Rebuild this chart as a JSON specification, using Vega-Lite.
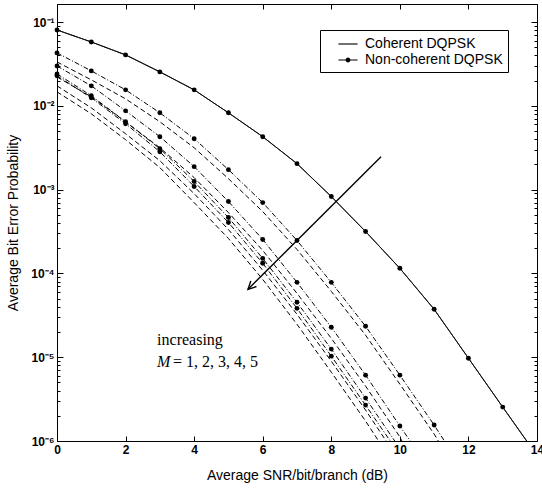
{
  "$schema": "https://vega.github.io/schema/vega-lite/v6.json",
  "width": 480,
  "height": 437,
  "autosize": "none",
  "padding": {"left": 57, "top": 4, "right": 5, "bottom": 48},
  "background": "white",
  "config": {
    "view": {"stroke": "black", "strokeWidth": 1},
    "axis": {"grid": false, "domainColor": "black", "tickColor": "black", "labelColor": "black", "titleColor": "black", "labelFont": "Liberation Sans", "titleFont": "Liberation Sans", "labelFlush": false}
  },
  "datasets": {
    "curves": [
      {"snr":0,"ber":0.0803,"M":1,"receiver":"Coherent"},{"snr":1,"ber":0.0578,"M":1,"receiver":"Coherent"},{"snr":2,"ber":0.0405,"M":1,"receiver":"Coherent"},{"snr":3,"ber":0.0254,"M":1,"receiver":"Coherent"},{"snr":4,"ber":0.0155,"M":1,"receiver":"Coherent"},{"snr":5,"ber":0.00825,"M":1,"receiver":"Coherent"},{"snr":6,"ber":0.00428,"M":1,"receiver":"Coherent"},{"snr":7,"ber":0.00204,"M":1,"receiver":"Coherent"},{"snr":8,"ber":0.000826,"M":1,"receiver":"Coherent"},{"snr":9,"ber":0.000316,"M":1,"receiver":"Coherent"},{"snr":10,"ber":0.000115,"M":1,"receiver":"Coherent"},{"snr":11,"ber":0.0000373,"M":1,"receiver":"Coherent"},{"snr":12,"ber":0.00000973,"M":1,"receiver":"Coherent"},{"snr":13,"ber":0.00000254,"M":1,"receiver":"Coherent"},{"snr":13.7,"ber":0.000001,"M":1,"receiver":"Coherent"},
      {"snr":0,"ber":0.0803,"M":1,"receiver":"Non-coherent"},{"snr":1,"ber":0.0578,"M":1,"receiver":"Non-coherent"},{"snr":2,"ber":0.0405,"M":1,"receiver":"Non-coherent"},{"snr":3,"ber":0.0254,"M":1,"receiver":"Non-coherent"},{"snr":4,"ber":0.0155,"M":1,"receiver":"Non-coherent"},{"snr":5,"ber":0.00825,"M":1,"receiver":"Non-coherent"},{"snr":6,"ber":0.00428,"M":1,"receiver":"Non-coherent"},{"snr":7,"ber":0.00204,"M":1,"receiver":"Non-coherent"},{"snr":8,"ber":0.000826,"M":1,"receiver":"Non-coherent"},{"snr":9,"ber":0.000316,"M":1,"receiver":"Non-coherent"},{"snr":10,"ber":0.000115,"M":1,"receiver":"Non-coherent"},{"snr":11,"ber":0.0000373,"M":1,"receiver":"Non-coherent"},{"snr":12,"ber":0.00000973,"M":1,"receiver":"Non-coherent"},{"snr":13,"ber":0.00000254,"M":1,"receiver":"Non-coherent"},{"snr":13.7,"ber":0.000001,"M":1,"receiver":"Non-coherent"},
      {"snr":0,"ber":0.0428,"M":2,"receiver":"Non-coherent"},{"snr":1,"ber":0.0261,"M":2,"receiver":"Non-coherent"},{"snr":2,"ber":0.0155,"M":2,"receiver":"Non-coherent"},{"snr":3,"ber":0.00825,"M":2,"receiver":"Non-coherent"},{"snr":4,"ber":0.00405,"M":2,"receiver":"Non-coherent"},{"snr":5,"ber":0.00173,"M":2,"receiver":"Non-coherent"},{"snr":6,"ber":0.0007,"M":2,"receiver":"Non-coherent"},{"snr":7,"ber":0.000247,"M":2,"receiver":"Non-coherent"},{"snr":8,"ber":0.0000782,"M":2,"receiver":"Non-coherent"},{"snr":9,"ber":0.0000234,"M":2,"receiver":"Non-coherent"},{"snr":10,"ber":0.00000611,"M":2,"receiver":"Non-coherent"},{"snr":11,"ber":0.00000155,"M":2,"receiver":"Non-coherent"},{"snr":11.3,"ber":0.000001,"M":2,"receiver":"Non-coherent"},
      {"snr":0,"ber":0.0299,"M":3,"receiver":"Non-coherent"},{"snr":1,"ber":0.0173,"M":3,"receiver":"Non-coherent"},{"snr":2,"ber":0.00871,"M":3,"receiver":"Non-coherent"},{"snr":3,"ber":0.00428,"M":3,"receiver":"Non-coherent"},{"snr":4,"ber":0.00188,"M":3,"receiver":"Non-coherent"},{"snr":5,"ber":0.00072,"M":3,"receiver":"Non-coherent"},{"snr":6,"ber":0.000254,"M":3,"receiver":"Non-coherent"},{"snr":7,"ber":0.0000782,"M":3,"receiver":"Non-coherent"},{"snr":8,"ber":0.0000228,"M":3,"receiver":"Non-coherent"},{"snr":9,"ber":0.00000611,"M":3,"receiver":"Non-coherent"},{"snr":10,"ber":0.00000151,"M":3,"receiver":"Non-coherent"},{"snr":10.3,"ber":0.000001,"M":3,"receiver":"Non-coherent"},
      {"snr":0,"ber":0.024,"M":4,"receiver":"Non-coherent"},{"snr":1,"ber":0.0132,"M":4,"receiver":"Non-coherent"},{"snr":2,"ber":0.00645,"M":4,"receiver":"Non-coherent"},{"snr":3,"ber":0.00308,"M":4,"receiver":"Non-coherent"},{"snr":4,"ber":0.00125,"M":4,"receiver":"Non-coherent"},{"snr":5,"ber":0.000464,"M":4,"receiver":"Non-coherent"},{"snr":6,"ber":0.000151,"M":4,"receiver":"Non-coherent"},{"snr":7,"ber":0.0000452,"M":4,"receiver":"Non-coherent"},{"snr":8,"ber":0.0000125,"M":4,"receiver":"Non-coherent"},{"snr":9,"ber":0.00000325,"M":4,"receiver":"Non-coherent"},{"snr":9.85,"ber":0.000001,"M":4,"receiver":"Non-coherent"},
      {"snr":0,"ber":0.0228,"M":5,"receiver":"Non-coherent"},{"snr":1,"ber":0.01245,"M":5,"receiver":"Non-coherent"},{"snr":2,"ber":0.00611,"M":5,"receiver":"Non-coherent"},{"snr":3,"ber":0.00283,"M":5,"receiver":"Non-coherent"},{"snr":4,"ber":0.00109,"M":5,"receiver":"Non-coherent"},{"snr":5,"ber":0.000405,"M":5,"receiver":"Non-coherent"},{"snr":6,"ber":0.000132,"M":5,"receiver":"Non-coherent"},{"snr":7,"ber":0.0000383,"M":5,"receiver":"Non-coherent"},{"snr":8,"ber":0.0000103,"M":5,"receiver":"Non-coherent"},{"snr":9,"ber":0.00000268,"M":5,"receiver":"Non-coherent"},{"snr":9.72,"ber":0.000001,"M":5,"receiver":"Non-coherent"},
      {"snr":0,"ber":0.0334,"M":2,"receiver":"Coherent"},{"snr":1,"ber":0.0204,"M":2,"receiver":"Coherent"},{"snr":2,"ber":0.01211,"M":2,"receiver":"Coherent"},{"snr":3,"ber":0.00645,"M":2,"receiver":"Coherent"},{"snr":4,"ber":0.00316,"M":2,"receiver":"Coherent"},{"snr":5,"ber":0.00135,"M":2,"receiver":"Coherent"},{"snr":6,"ber":0.000547,"M":2,"receiver":"Coherent"},{"snr":7,"ber":0.000193,"M":2,"receiver":"Coherent"},{"snr":8,"ber":0.0000611,"M":2,"receiver":"Coherent"},{"snr":9,"ber":0.0000183,"M":2,"receiver":"Coherent"},{"snr":10,"ber":0.00000477,"M":2,"receiver":"Coherent"},{"snr":11,"ber":0.00000121,"M":2,"receiver":"Coherent"},{"snr":11.12,"ber":0.000001,"M":2,"receiver":"Coherent"},
      {"snr":0,"ber":0.0221,"M":3,"receiver":"Coherent"},{"snr":1,"ber":0.0128,"M":3,"receiver":"Coherent"},{"snr":2,"ber":0.00645,"M":3,"receiver":"Coherent"},{"snr":3,"ber":0.00316,"M":3,"receiver":"Coherent"},{"snr":4,"ber":0.00139,"M":3,"receiver":"Coherent"},{"snr":5,"ber":0.000532,"M":3,"receiver":"Coherent"},{"snr":6,"ber":0.000188,"M":3,"receiver":"Coherent"},{"snr":7,"ber":0.0000578,"M":3,"receiver":"Coherent"},{"snr":8,"ber":0.0000168,"M":3,"receiver":"Coherent"},{"snr":9,"ber":0.00000452,"M":3,"receiver":"Coherent"},{"snr":10,"ber":0.00000112,"M":3,"receiver":"Coherent"},{"snr":10.06,"ber":0.000001,"M":3,"receiver":"Coherent"},
      {"snr":0,"ber":0.0173,"M":4,"receiver":"Coherent"},{"snr":1,"ber":0.00946,"M":4,"receiver":"Coherent"},{"snr":2,"ber":0.00464,"M":4,"receiver":"Coherent"},{"snr":3,"ber":0.00221,"M":4,"receiver":"Coherent"},{"snr":4,"ber":0.000896,"M":4,"receiver":"Coherent"},{"snr":5,"ber":0.000334,"M":4,"receiver":"Coherent"},{"snr":6,"ber":0.000109,"M":4,"receiver":"Coherent"},{"snr":7,"ber":0.0000325,"M":4,"receiver":"Coherent"},{"snr":8,"ber":0.00000896,"M":4,"receiver":"Coherent"},{"snr":9,"ber":0.00000234,"M":4,"receiver":"Coherent"},{"snr":9.6,"ber":0.000001,"M":4,"receiver":"Coherent"},
      {"snr":0,"ber":0.01468,"M":5,"receiver":"Coherent"},{"snr":1,"ber":0.00803,"M":5,"receiver":"Coherent"},{"snr":2,"ber":0.00394,"M":5,"receiver":"Coherent"},{"snr":3,"ber":0.00183,"M":5,"receiver":"Coherent"},{"snr":4,"ber":0.0007,"M":5,"receiver":"Coherent"},{"snr":5,"ber":0.000261,"M":5,"receiver":"Coherent"},{"snr":6,"ber":0.0000849,"M":5,"receiver":"Coherent"},{"snr":7,"ber":0.0000247,"M":5,"receiver":"Coherent"},{"snr":8,"ber":0.00000663,"M":5,"receiver":"Coherent"},{"snr":9,"ber":0.00000173,"M":5,"receiver":"Coherent"},{"snr":9.38,"ber":0.000001,"M":5,"receiver":"Coherent"}
    ]
  },
  "resolve": {"scale": {"strokeDash": "independent"}, "axis": {"x": "independent", "y": "independent"}},
  "layer": [
    {
      "data": {"name": "curves"},
      "transform": [{"filter": "datum.receiver == 'Coherent'"}],
      "mark": {"type": "line", "color": "black", "strokeWidth": 1},
      "encoding": {
        "x": {"field": "snr", "type": "quantitative", "scale": {"domain": [0, 14], "nice": false},
          "axis": {"orient": "bottom", "values": [0, 2, 4, 6, 8, 10, 12, 14], "domain": false, "tickSize": -5, "labelPadding": 8, "labelFlush": false, "labelFontSize": 12, "labelFontWeight": "bold", "title": "Average SNR/bit/branch (dB)", "titleFontSize": 14, "titleFontWeight": "normal", "titleY": 34, "titleBaseline": "middle"}},
        "y": {"field": "ber", "type": "quantitative", "scale": {"type": "log", "domain": [0.000001, 0.164], "nice": false},
          "axis": {"orient": "left", "domain": false, "labelFlush": false,
            "values": [0.000001,0.000002,0.000003,0.000004,0.000005,0.000006,0.000007,0.000008,0.000009,0.00001,0.00002,0.00003,0.00004,0.00005,0.00006,0.00007,0.00008,0.00009,0.0001,0.0002,0.0003,0.0004,0.0005,0.0006,0.0007,0.0008,0.0009,0.001,0.002,0.003,0.004,0.005,0.006,0.007,0.008,0.009,0.01,0.02,0.03,0.04,0.05,0.06,0.07,0.08,0.09,0.1],
            "labelExpr": "abs(log(datum.value)/LN10 - round(log(datum.value)/LN10)) < 0.001 ? '10' + ['⁻⁶','⁻⁵','⁻⁴','⁻³','⁻²','⁻¹'][round(log(datum.value)/LN10) + 6] : ''",
            "tickSize": {"condition": {"test": "abs(log(datum.value)/LN10 - round(log(datum.value)/LN10)) < 0.001", "value": -6}, "value": -3},
            "labelPadding": 9, "labelFontSize": 12, "labelFontWeight": "bold",
            "title": "Average Bit Error Probability", "titleFontSize": 14, "titleFontWeight": "normal", "titleX": -44, "titleBaseline": "middle"}},
        "strokeDash": {"field": "M", "type": "nominal", "scale": {"domain": [1, 2, 3, 4, 5], "range": [[1, 0], [5, 3], [5, 3], [5, 3], [5, 3]]}, "legend": null}
      }
    },
    {
      "data": {"name": "curves"},
      "transform": [{"filter": "datum.receiver == 'Non-coherent'"}],
      "mark": {"type": "line", "color": "black", "strokeWidth": 1},
      "encoding": {
        "x": {"field": "snr", "type": "quantitative", "axis": null},
        "y": {"field": "ber", "type": "quantitative", "axis": null},
        "strokeDash": {"field": "M", "type": "nominal", "scale": {"domain": [1, 2, 3, 4, 5], "range": [[1, 0], [5, 2, 1, 2], [5, 2, 1, 2], [5, 2, 1, 2], [5, 2, 1, 2]]}, "legend": null}
      }
    },
    {
      "data": {"name": "curves"},
      "transform": [{"filter": "datum.receiver == 'Non-coherent' && datum.snr % 1 == 0"}],
      "mark": {"type": "point", "shape": "circle", "filled": true, "color": "black", "size": 24, "opacity": 1},
      "encoding": {
        "x": {"field": "snr", "type": "quantitative", "axis": null},
        "y": {"field": "ber", "type": "quantitative", "axis": null}
      }
    },
    {
      "data": {"name": "curves"},
      "mark": {"type": "point", "opacity": 0, "filled": true, "color": "black"},
      "encoding": {
        "x": {"field": "snr", "type": "quantitative", "axis": {"orient": "top", "values": [0, 2, 4, 6, 8, 10, 12, 14], "labels": false, "domain": false, "tickSize": -5, "title": null}},
        "y": {"field": "ber", "type": "quantitative",
          "axis": {"orient": "right", "labels": false, "domain": false, "title": null,
            "values": [0.000001,0.000002,0.000003,0.000004,0.000005,0.000006,0.000007,0.000008,0.000009,0.00001,0.00002,0.00003,0.00004,0.00005,0.00006,0.00007,0.00008,0.00009,0.0001,0.0002,0.0003,0.0004,0.0005,0.0006,0.0007,0.0008,0.0009,0.001,0.002,0.003,0.004,0.005,0.006,0.007,0.008,0.009,0.01,0.02,0.03,0.04,0.05,0.06,0.07,0.08,0.09,0.1],
            "tickSize": {"condition": {"test": "abs(log(datum.value)/LN10 - round(log(datum.value)/LN10)) < 0.001", "value": -6}, "value": -3}}},
        "shape": {"field": "receiver", "type": "nominal",
          "scale": {"domain": ["Coherent", "Non-coherent"], "range": ["M-1.2,-0.07L1.2,-0.07L1.2,0.07L-1.2,0.07Z", "M-1.2,-0.07L1.2,-0.07L1.2,0.07L-1.2,0.07Z M-0.3,0A0.3,0.3,0,1,1,0.3,0A0.3,0.3,0,1,1,-0.3,0Z"]},
          "legend": {"orient": "none", "legendX": 263, "legendY": 26, "title": null, "labelExpr": "datum.label + ' DQPSK'",
            "labelFont": "Liberation Sans", "labelFontSize": 14, "labelColor": "black", "symbolSize": 256,
            "symbolFillColor": "black", "symbolOpacity": 1,
            "strokeColor": "black", "fillColor": "white", "padding": 5, "rowPadding": 0, "symbolOffset": 14, "labelOffset": 8,
            "encode": {"symbols": {"update": {"fill": {"value": "black"}, "opacity": {"value": 1}, "fillOpacity": {"value": 1}}}}}}
      }
    },
    {
      "data": {"values": [{"snr": 9.45, "ber": 0.00247}, {"snr": 5.57, "ber": 0.0000645}]},
      "mark": {"type": "line", "color": "black", "strokeWidth": 1.4},
      "encoding": {
        "x": {"field": "snr", "type": "quantitative", "axis": null},
        "y": {"field": "ber", "type": "quantitative", "axis": null}
      }
    },
    {
      "data": {"values": [{"snr": 5.57, "ber": 0.0000645}]},
      "mark": {"type": "point", "shape": "M-0.5,-1L0,0L0.5,-1", "angle": 45, "size": 256, "filled": false, "color": "black", "strokeWidth": 1.4, "opacity": 1},
      "encoding": {
        "x": {"field": "snr", "type": "quantitative", "axis": null},
        "y": {"field": "ber", "type": "quantitative", "axis": null}
      }
    },
    {
      "data": {"values": [{"snr": 2.92, "ber": 0.0000159, "text": "increasing"}, {"snr": 3.38, "ber": 0.00000871, "text": "= 1, 2, 3, 4, 5"}]},
      "mark": {"type": "text", "align": "left", "baseline": "middle", "font": "Liberation Serif", "fontSize": 16, "color": "black"},
      "encoding": {
        "x": {"field": "snr", "type": "quantitative", "axis": null},
        "y": {"field": "ber", "type": "quantitative", "axis": null},
        "text": {"field": "text"}
      }
    },
    {
      "data": {"values": [{"snr": 2.92, "ber": 0.00000871, "text": "M"}]},
      "mark": {"type": "text", "align": "left", "baseline": "middle", "font": "Liberation Serif", "fontStyle": "italic", "fontSize": 16, "color": "black"},
      "encoding": {
        "x": {"field": "snr", "type": "quantitative", "axis": null},
        "y": {"field": "ber", "type": "quantitative", "axis": null},
        "text": {"field": "text"}
      }
    }
  ]
}
